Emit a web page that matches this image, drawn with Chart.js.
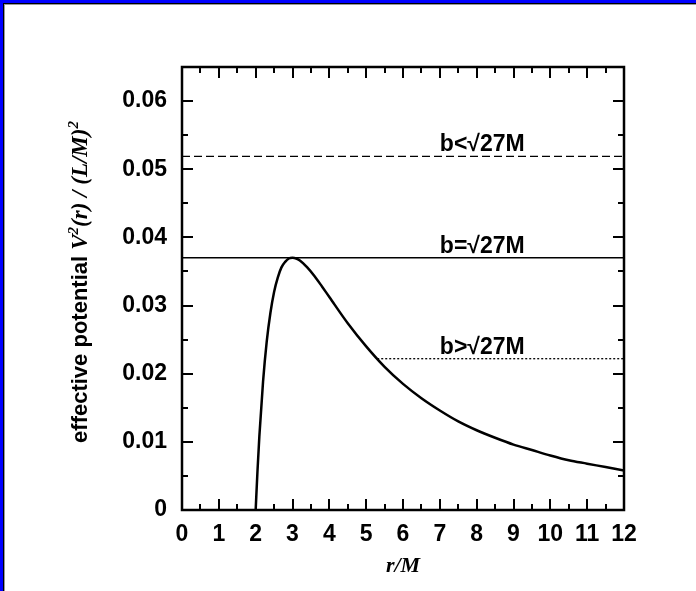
<!DOCTYPE html>
<html>
<head>
<meta charset="utf-8">
<script src="https://cdn.jsdelivr.net/npm/chart.js@4.4.0/dist/chart.umd.min.js"></script>
<style>
  html, body { margin: 0; padding: 0; background: #fff; }
  #wrap { position: relative; width: 696px; height: 591px; overflow: hidden; }
  #wrap canvas { position: absolute; left: 0; top: 0; }
  .edge { position: absolute; left: 0; top: 0; right: 0; bottom: 0; pointer-events: none; }
  #blue { border-top: 3px solid #0000ff; border-left: 3px solid #0000ff; }
  #black { left: 3px; top: 3px; border-top: 1px solid #000; border-left: 1px solid #000; }
  #grey { left: 4px; top: 4px; border-top: 1px solid #999; border-left: 1px solid #999; }
</style>
</head>
<body>
<div id="wrap">
  <canvas id="potentialChart" width="696" height="591"></canvas>
  <div class="edge" id="blue"></div>
  <div class="edge" id="black"></div>
  <div class="edge" id="grey"></div>
</div>
<script>
// effective potential curve
const rValues = [2, 2.05, 2.1, 2.2, 2.3, 2.4, 2.5, 2.6, 2.7, 2.8, 2.9, 3.0, 3.1, 3.2, 3.4, 3.6, 3.8, 4.0,
                 4.5, 5.0, 5.5, 6.0, 6.5, 7.0, 7.5, 8.0, 8.5, 9.0, 9.5, 10.0, 10.5, 11.0, 11.5, 12.0];
const vValues = [0, 0.0058, 0.0108, 0.0188, 0.0247, 0.0289, 0.0320, 0.0341, 0.0356, 0.0364, 0.0369, 0.0370,
                 0.0369, 0.0366, 0.0356, 0.0343, 0.0328, 0.03125, 0.0274, 0.0240, 0.0210, 0.0185, 0.0164,
                 0.0146, 0.0130, 0.0117, 0.0106, 0.0096, 0.0088, 0.0080, 0.0073, 0.0068, 0.0063, 0.0058];

// horizontal energy levels
const levelLabels = ['b<\u221A27M', 'b=\u221A27M', 'b>\u221A27M'];
const levelValues = [0.0519, 0.0370, 0.0222];
const levelStart = [0, 0, 5.3];
const levelEnd = [12, 12, 12];
const labelX = 7.0;

const xTicks = [0, 1, 2, 3, 4, 5, 6, 7, 8, 9, 10, 11, 12];
const yTicks = [0, 0.01, 0.02, 0.03, 0.04, 0.05, 0.06];

const sansBold = 'bold 23px "Liberation Sans", Arial, sans-serif';

function levelData(i) {
    return [{ x: levelStart[i], y: levelValues[i] }, { x: levelEnd[i], y: levelValues[i] }];
}

const frameAndLabels = {
    id: 'frameAndLabels',
    afterDraw(chart) {
        const ctx = chart.ctx;
        const area = chart.chartArea;
        const xs = chart.scales.x;
        const ys = chart.scales.y;
        ctx.save();
        ctx.strokeStyle = '#000';

        // inward ticks on all four sides
        ctx.lineWidth = 2;
        ctx.beginPath();
        for (let v = 0; v <= 12.001; v += 0.5) {
            const px = Math.round(xs.getPixelForValue(v));
            const len = Math.abs(v - Math.round(v)) < 0.01 ? 11 : 6;
            ctx.moveTo(px, area.bottom); ctx.lineTo(px, area.bottom - len);
            ctx.moveTo(px, area.top); ctx.lineTo(px, area.top + len);
        }
        for (let k = 0; k <= 13; k++) {
            const py = Math.round(ys.getPixelForValue(k * 0.005));
            const len = k % 2 === 0 ? 11 : 6;
            ctx.moveTo(area.left, py); ctx.lineTo(area.left + len, py);
            ctx.moveTo(area.right, py); ctx.lineTo(area.right - len, py);
        }
        ctx.stroke();

        // frame
        ctx.lineWidth = 2.5;
        ctx.strokeRect(area.left, area.top, area.right - area.left, area.bottom - area.top);

        // level labels
        ctx.fillStyle = '#000';
        ctx.font = sansBold;
        ctx.textAlign = 'left';
        ctx.textBaseline = 'alphabetic';
        levelLabels.forEach((t, i) => {
            ctx.fillText(t, xs.getPixelForValue(labelX), ys.getPixelForValue(levelValues[i]) - 5);
        });

        // x axis title
        ctx.font = 'italic bold 22px "Liberation Serif", "Times New Roman", serif';
        ctx.textAlign = 'center';
        ctx.fillText('r/M', (area.left + area.right) / 2, 572);

        // y axis title, mixed fonts
        const serif = 'italic bold 23px "Liberation Serif", "Times New Roman", serif';
        const sup = 'italic bold 15px "Liberation Serif", "Times New Roman", serif';
        const parts = [
            { t: 'effective potential ', f: 'bold 22px "Liberation Sans", Arial, sans-serif', dy: 0 },
            { t: 'V', f: serif, dy: 0 },
            { t: '2', f: sup, dy: -9 },
            { t: '(r) / (L/M)', f: serif, dy: 0 },
            { t: '2', f: sup, dy: -9 }
        ];
        let total = 0;
        parts.forEach(p => { ctx.font = p.f; p.w = ctx.measureText(p.t).width; total += p.w; });
        ctx.translate(87, 282);
        ctx.rotate(-Math.PI / 2);
        ctx.textAlign = 'left';
        let cx = -total / 2;
        parts.forEach(p => { ctx.font = p.f; ctx.fillText(p.t, cx, p.dy); cx += p.w; });
        ctx.restore();
    }
};

const ctx = document.getElementById('potentialChart').getContext('2d');
const potentialChart = new Chart(ctx, {
    type: 'scatter',
    data: {
        datasets: [{
            label: 'V',
            data: rValues.map((r, i) => ({ x: r, y: vValues[i] })),
            showLine: true,
            borderColor: '#000',
            borderWidth: 2.5,
            pointRadius: 0,
            cubicInterpolationMode: 'monotone'
        }, {
            label: levelLabels[0],
            data: levelData(0),
            showLine: true,
            borderColor: '#000',
            borderWidth: 1.3,
            borderDash: [8, 4],
            pointRadius: 0
        }, {
            label: levelLabels[1],
            data: levelData(1),
            showLine: true,
            borderColor: '#000',
            borderWidth: 1.5,
            pointRadius: 0
        }, {
            label: levelLabels[2],
            data: levelData(2),
            showLine: true,
            borderColor: '#000',
            borderWidth: 1.3,
            borderDash: [2, 2],
            pointRadius: 0
        }]
    },
    options: {
        responsive: false,
        animation: false,
        devicePixelRatio: 1,
        layout: { padding: { top: 67, right: 72, left: 0, bottom: 0 } },
        plugins: { legend: { display: false }, tooltip: { enabled: false } },
        scales: {
            x: {
                type: 'linear',
                min: 0,
                max: 12,
                afterFit: s => { s.height = 81; },
                afterBuildTicks: s => { s.ticks = xTicks.map(v => ({ value: v })); },
                grid: { display: false, drawTicks: false },
                border: { display: false },
                ticks: {
                    padding: 11,
                    color: '#000',
                    font: { family: '"Liberation Sans", Arial, sans-serif', size: 23, weight: 'bold' },
                    maxRotation: 0
                }
            },
            y: {
                type: 'linear',
                min: 0,
                max: 0.065,
                afterFit: s => { s.width = 182; },
                afterBuildTicks: s => { s.ticks = yTicks.map(v => ({ value: v })); },
                grid: { display: false, drawTicks: false },
                border: { display: false },
                ticks: {
                    padding: 15,
                    color: '#000',
                    font: { family: '"Liberation Sans", Arial, sans-serif', size: 23, weight: 'bold' },
                    callback: v => v === 0 ? '0' : v.toFixed(2)
                }
            }
        }
    },
    plugins: [frameAndLabels]
});
</script>
</body>
</html>
